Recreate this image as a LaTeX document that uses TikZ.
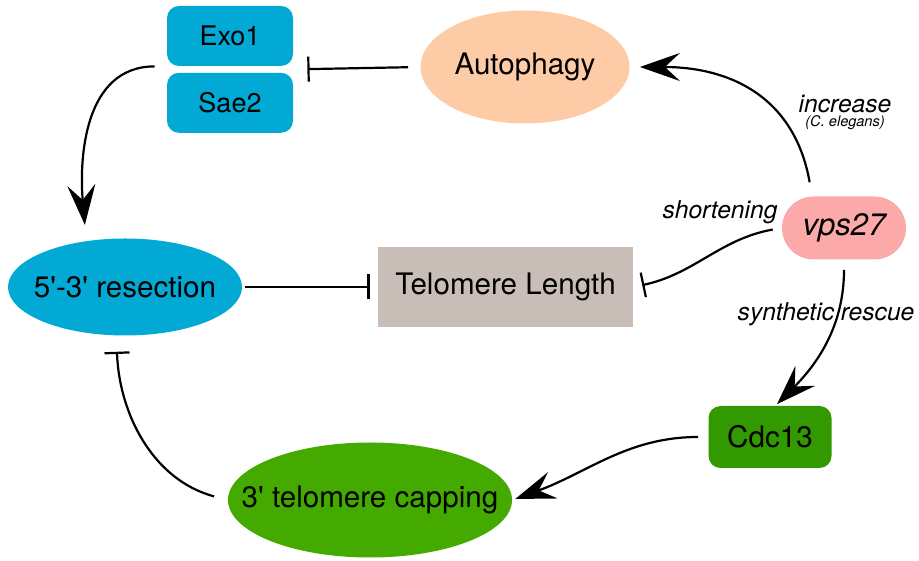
\documentclass[tikz,border=0pt]{standalone}
\usepackage{fontspec}
\setmainfont{TeX Gyre Heros}
\usetikzlibrary{positioning}
\usetikzlibrary{calc}
\usetikzlibrary{arrows.meta}
\usetikzlibrary{shapes.geometric}

\definecolor{nucblue}{HTML}{02A9D4}
\definecolor{autopeach}{HTML}{FDCBA6}
\definecolor{vpspink}{HTML}{FCA9A9}
\definecolor{telgrey}{HTML}{C8BDB7}
\definecolor{cdcgreen}{HTML}{339900}
\definecolor{capgreen}{HTML}{44AA00}

% label of zero width, so the ellipse keeps its minimum size
\newcommand{\nowd}[1]{\makebox[0pt]{#1}}

\begin{document}
\begin{tikzpicture}[x=0.5pt, y=0.5pt,
    protein/.style={rectangle, rounded corners=6pt, inner sep=0pt, minimum width=63pt, minimum height=30pt, font=\fontsize{13.5}{16}\selectfont},
    process/.style={ellipse, inner sep=0pt, font=\fontsize{14.8}{17}\selectfont},
    act/.style={-{Stealth[length=20pt, width=14pt, inset=7.5pt]}, line width=1.1pt},
    inh/.style={-{Bar[width=12.5pt]}, line width=1.1pt},
    note/.style={font=\fontsize{12.3}{14}\selectfont\itshape}]

    \path[use as bounding box] (0,0) rectangle (919,561);

    % nucleases and the processes around them
    \node[protein, fill=nucblue] (exo) at (230,525) {Exo1};
    \node[protein, fill=nucblue, below = 3pt of exo] (sae) {Sae2};
    \coordinate (exosae) at ($(exo.south east)!0.5!(sae.north east)$);

    \node[process, fill=autopeach, minimum width=104.5pt, minimum height=56.5pt] (auto) at (525,494) {\nowd{Autophagy}};
    \node[process, fill=nucblue, minimum width=117pt, minimum height=48.5pt] (res) at (125,274)
        {\nowd{5\textquotesingle-3\textquotesingle\ resection}};
    \node[rectangle, fill=telgrey, inner sep=0pt, minimum width=127.5pt, minimum height=40pt,
          font=\fontsize{14.8}{17}\selectfont] (tel) at (505.5,274) {Telomere Length};
    \node[rectangle, fill=vpspink, rounded corners=15.75pt, inner sep=0pt, minimum width=62pt, minimum height=31.5pt,
          font=\fontsize{15.5}{18}\selectfont\itshape] (vps) at (844,333) {vps27};
    \node[protein, fill=cdcgreen, minimum width=61.5pt, minimum height=31pt,
          font=\fontsize{14.8}{17}\selectfont] (cdc) at (770,124) {Cdc13};
    \node[process, fill=capgreen, minimum width=142pt, minimum height=57.5pt] (cap) at (370,61)
        {\nowd{3\textquotesingle\ telomere capping}};

    % edge labels
    \node[note] (lincr) at (845,457) {increase};
    \node[font=\fontsize{7.3}{9}\selectfont\itshape] (lceleg) at (845,438) {(C. elegans)};
    \node[note] (lshort) at (720,349) {shortening};
    \node[note] (lresc) at (826,247) {synthetic rescue};

    % interactions
    \draw[act, shorten <=6pt, shorten >=8pt] (exo.south west) to[out=180, in=95, looseness=1.1] (res.130);
    \draw[inh, shorten <=6pt, shorten >=7pt] (auto.west) -- (exosae);
    \draw[act, shorten <=7pt, shorten >=5pt] (vps.135) to[out=100, in=0, looseness=1.15] (auto.east);
    \draw[inh, shorten <=4.5pt, shorten >=4.5pt] (vps.west) to[out=190, in=12] (tel.east);
    \draw[inh, shorten <=1.5pt, shorten >=4pt] (res.east) -- (tel.west);
    \draw[act, shorten <=5pt, shorten >=1pt] (vps.south) to[out=-90, in=45] (cdc.80);
    \draw[act, shorten <=5pt, shorten >=1.5pt] (cdc.west) to[out=180, in=20] (cap.east);
    \draw[inh, shorten <=7pt, shorten >=8pt] (cap.west) to[out=165, in=-88] (res.260);
\end{tikzpicture}
\end{document}
